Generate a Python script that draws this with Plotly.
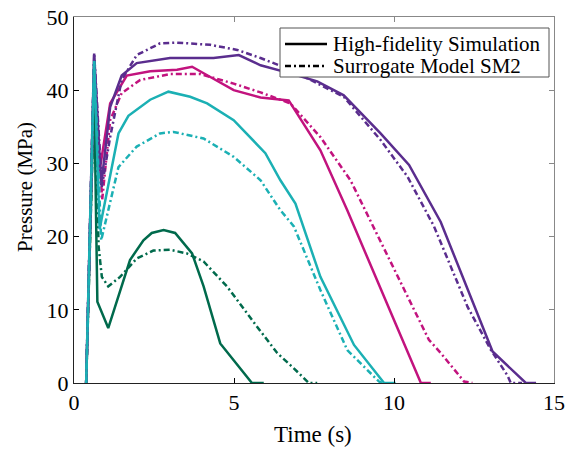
import plotly.graph_objects as go

# ---- data (time in s, pressure in MPa) ----
purple_hf_t = [0.38, 0.63, 0.85, 1.13, 1.49, 1.96, 3.0, 4.36, 5.15, 5.83, 6.76, 7.6, 8.43, 9.58, 10.47, 11.46, 13.08, 14.12, 14.44]
purple_hf_p = [0, 45, 27, 37.7, 42, 43.7, 44.4, 44.4, 44.8, 43.4, 42.3, 41.2, 39.3, 34.1, 29.8, 22.0, 4.3, 0, 0]
purple_sm_t = [0.38, 0.63, 0.87, 1.13, 1.49, 1.96, 2.69, 3.22, 4.26, 5.1, 5.83, 6.76, 8.43, 9.58, 10.42, 11.25, 12.3, 13.03, 13.55, 13.65, 14.0]
purple_sm_p = [0, 45, 26.8, 33.6, 41.4, 44.8, 46.4, 46.5, 46.2, 45.5, 44.4, 42.8, 39.1, 33.2, 28.2, 21.4, 10.4, 4.5, 1.0, 0, 0]

magenta_hf_t = [0.38, 0.63, 0.8, 1.13, 1.65, 2.38, 3.22, 3.69, 4.26, 4.99, 5.83, 6.71, 7.7, 8.54, 10.0, 10.84, 11.15]
magenta_hf_p = [0, 44, 29, 38.2, 42, 42.6, 42.8, 43.2, 41.8, 40.0, 39.0, 38.6, 31.8, 23.6, 8.6, 0, 0]
magenta_sm_t = [0.38, 0.63, 0.88, 1.13, 1.49, 2.07, 3.0, 3.95, 4.99, 5.83, 6.76, 7.7, 8.64, 9.97, 11.09, 11.46, 12.19, 12.45]
magenta_sm_p = [0, 44, 25, 35.9, 39.6, 41.4, 42.2, 42.2, 40.9, 39.7, 38.2, 33.6, 27.7, 15.9, 5.9, 4.1, 0.2, 0]

cyan_hf_t = [0.38, 0.63, 0.8, 1.39, 1.7, 2.38, 2.95, 3.63, 4.16, 4.99, 5.98, 6.45, 6.92, 7.7, 8.75, 9.69, 10.05]
cyan_hf_p = [0, 44, 21, 34.1, 36.5, 38.7, 39.8, 39.1, 38.2, 35.9, 31.4, 27.7, 24.5, 14.5, 5.2, 0, 0]
cyan_sm_t = [0.38, 0.63, 0.85, 1.39, 1.96, 2.69, 3.11, 4.05, 4.99, 5.83, 6.45, 6.87, 7.7, 8.54, 9.53, 9.64]
cyan_sm_p = [0, 44, 19.5, 29.5, 32.3, 34.1, 34.3, 33.4, 30.9, 27.7, 23.6, 21.4, 12.7, 4.5, 0.2, 0]

green_hf_t = [0.38, 0.63, 0.73, 1.07, 1.75, 2.17, 2.43, 2.8, 3.16, 3.69, 4.05, 4.57, 5.56, 5.93]
green_hf_p = [0, 40, 11.1, 7.5, 16.8, 19.5, 20.5, 20.9, 20.5, 17.7, 13.2, 5.4, 0, 0]
green_sm_t = [0.38, 0.63, 0.77, 0.87, 1.07, 1.44, 1.96, 2.48, 3.0, 3.53, 4.05, 4.78, 5.72, 6.35, 6.87, 7.34, 7.6]
green_sm_p = [0, 40, 18.6, 14.5, 13.2, 14.5, 17.0, 18.1, 18.2, 17.7, 16.6, 13.2, 7.7, 4.1, 2.0, 0, 0]

x_ticks = [0, 5, 10, 15]
y_ticks = [0, 10, 20, 30, 40, 50]
legend_labels = ["High-fidelity Simulation", "Surrogate Model SM2"]

PURPLE = "#5A2D8E"
MAGENTA = "#C2137E"
CYAN = "#1BB0B4"
GREEN = "#006A4C"

FONT = "Times New Roman"
FS = 22
DASH = "6px,3px,2px,3px"
LW = 2.5

W, H = 574, 451
ML, MR, MT, MB = 74, 20, 17, 68
PW, PH = W - ML - MR, H - MT - MB


def px_x(px):
    return (px - ML) / PW


def px_y(py):
    return (H - MB - py) / PH


# drawing order: green first, cyan last
series = [
    (green_hf_t, green_hf_p, green_sm_t, green_sm_p, GREEN),
    (magenta_hf_t, magenta_hf_p, magenta_sm_t, magenta_sm_p, MAGENTA),
    (purple_hf_t, purple_hf_p, purple_sm_t, purple_sm_p, PURPLE),
    (cyan_hf_t, cyan_hf_p, cyan_sm_t, cyan_sm_p, CYAN),
]

fig = go.Figure()
for ht, hp, st, sp, c in series:
    fig.add_trace(go.Scatter(x=st, y=sp, mode="lines", showlegend=False,
                             line=dict(color=c, width=LW, dash=DASH)))
    fig.add_trace(go.Scatter(x=ht, y=hp, mode="lines", showlegend=False,
                             line=dict(color=c, width=LW)))

# dummy trace for mirrored gray axes
fig.add_trace(go.Scatter(x=[None], y=[None], xaxis="x2", yaxis="y2", showlegend=False,
                         hoverinfo="skip"))

# manual legend box
shapes = [dict(type="rect", xref="paper", yref="paper",
               x0=px_x(280), x1=px_x(549), y0=px_y(77), y1=px_y(28),
               fillcolor="white", line=dict(color="#555", width=1), layer="above")]
annotations = []
row_y = [44, 66]
dashes = ["solid", DASH]
for label, ry, dsh in zip(legend_labels, row_y, dashes):
    shapes.append(dict(type="line", xref="paper", yref="paper",
                       x0=px_x(285), x1=px_x(327), y0=px_y(ry), y1=px_y(ry),
                       line=dict(color="black", width=LW, dash=dsh), layer="above"))
    annotations.append(dict(text=label, xref="paper", yref="paper",
                            x=px_x(331), y=px_y(ry), xanchor="left", yanchor="middle",
                            showarrow=False, font=dict(family=FONT, size=21, color="black")))

annotations.append(dict(text="Pressure (MPa)", xref="paper", yref="paper",
                        x=px_x(25), y=px_y(187), xanchor="center", yanchor="middle",
                        textangle=-90, showarrow=False,
                        font=dict(family=FONT, size=21, color="black")))
annotations.append(dict(text="Time (s)", xref="paper", yref="paper",
                        x=px_x(313), y=px_y(434), xanchor="center", yanchor="middle",
                        showarrow=False,
                        font=dict(family=FONT, size=23, color="black")))

axis_common = dict(ticks="inside", ticklen=5, showgrid=False, zeroline=False,
                   showline=True, linewidth=1, automargin=False)

fig.update_layout(
    width=W, height=H,
    margin=dict(l=ML, r=MR, t=MT, b=MB, autoexpand=False),
    paper_bgcolor="white", plot_bgcolor="white",
    font=dict(family=FONT, size=FS, color="black"),
    showlegend=False,
    xaxis=dict(range=[0, 15], tickvals=x_ticks, tickcolor="black", linecolor="#222",
               tickfont=dict(family=FONT, size=FS), **axis_common),
    yaxis=dict(range=[0, 50], tickvals=y_ticks, tickcolor="black", linecolor="#222",
               tickfont=dict(family=FONT, size=FS), **axis_common),
    xaxis2=dict(range=[0, 15], tickvals=x_ticks, tickcolor="#888", linecolor="#888",
                showticklabels=False, overlaying="x", side="top", anchor="y2",
                **axis_common),
    yaxis2=dict(range=[0, 50], tickvals=y_ticks, tickcolor="#888", linecolor="#888",
                showticklabels=False, overlaying="y", side="right", anchor="x2",
                **axis_common),
    shapes=shapes,
    annotations=annotations,
)

fig.write_html("out.html")
